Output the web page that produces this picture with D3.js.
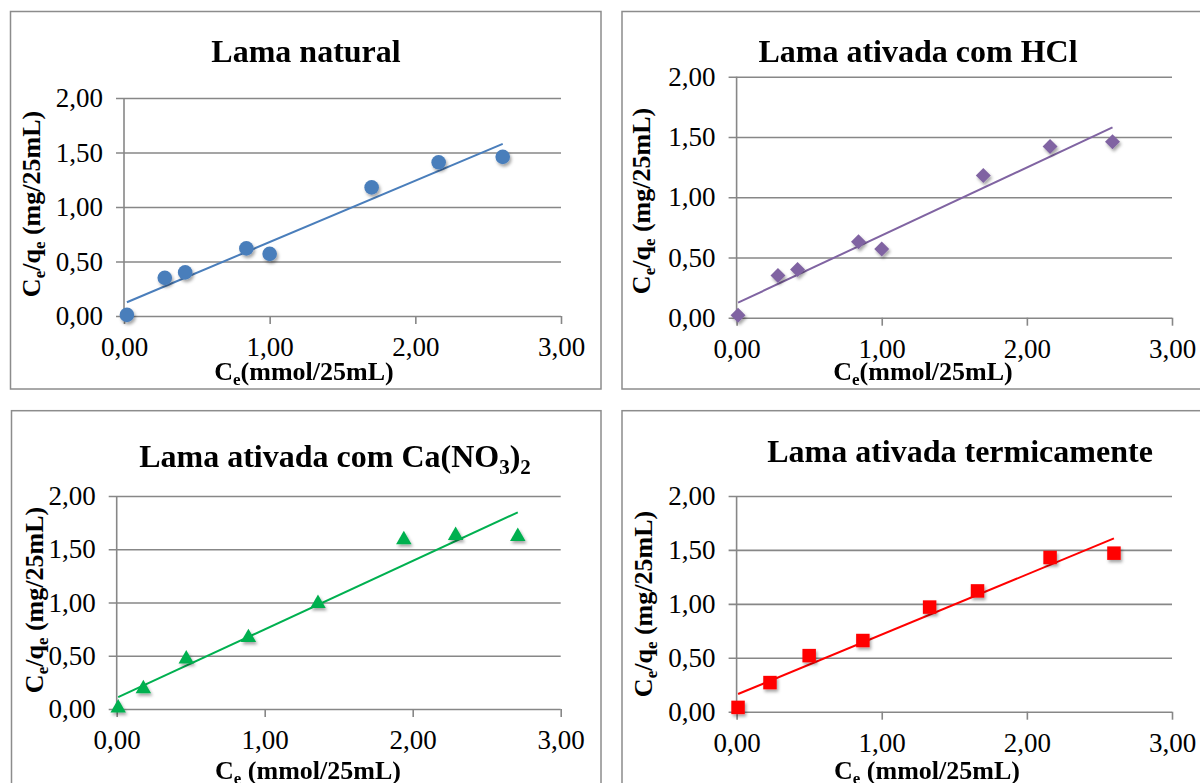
<!DOCTYPE html>
<html>
<head>
<meta charset="utf-8">
<script src="https://cdn.jsdelivr.net/npm/d3@7"></script>
<style>
  html, body { margin: 0; padding: 0; background: #fff; }
  svg { display: block; }
  svg text { font-family: "Liberation Serif", "Times New Roman", Times, serif !important; fill: #000; }
</style>
</head>
<body>
<svg id="chart" width="1200" height="783"></svg>
<script>
// Linearised Langmuir isotherms: Ce (mmol/25mL) vs Ce/qe (mg/25mL)
const ceNatural    = [0.02, 0.28, 0.42, 0.84, 1.00, 1.70, 2.16, 2.60];
const ratioNatural = [0.01, 0.35, 0.40, 0.62, 0.57, 1.18, 1.41, 1.46];

const ceHCl    = [0.01, 0.285, 0.42, 0.84, 1.00, 1.70, 2.16, 2.59];
const ratioHCl = [0.02, 0.35, 0.40, 0.63, 0.57, 1.18, 1.42, 1.46];

const ceCaNO3    = [0.01, 0.18, 0.47, 0.89, 1.36, 1.94, 2.29, 2.71];
const ratioCaNO3 = [0.01, 0.19, 0.47, 0.67, 0.99, 1.59, 1.63, 1.62];

const ceThermal    = [0.01, 0.23, 0.50, 0.87, 1.33, 1.66, 2.16, 2.60];
const ratioThermal = [0.04, 0.27, 0.52, 0.66, 0.97, 1.12, 1.43, 1.47];

const xTicks = [0, 1, 2, 3];
const yTicks = [0, 0.5, 1, 1.5, 2];

const titleNatural = [{ t: "Lama natural" }];
const titleHCl = [{ t: "Lama ativada com HCl" }];
const titleCaNO3 = [{ t: "Lama ativada com Ca(NO" }, { t: "3", sub: true }, { t: ")" }, { t: "2", sub: true }];
const titleThermal = [{ t: "Lama ativada termicamente" }];

const xLabelTight = [{ t: "C" }, { t: "e", sub: true }, { t: "(mmol/25mL)" }];
const xLabelSpaced = [{ t: "C" }, { t: "e", sub: true }, { t: " (mmol/25mL)" }];
const yLabel = [{ t: "C" }, { t: "e", sub: true }, { t: "/q" }, { t: "e", sub: true }, { t: " (mg/25mL)" }];

// decimal comma number format
const ptBR = d3.formatLocale({ decimal: ",", thousands: ".", grouping: [3], currency: ["R$", ""] });
const fmt = ptBR.format(".2f");

const SERIF = '"Liberation Serif", "Times New Roman", Times, serif';
const GRID = "#878787";

const panels = [
  {
    title: titleNatural, xLabel: xLabelTight, ce: ceNatural, ratio: ratioNatural,
    color: "#4A7EBB", marker: "circle",
    frame: { x: 10.5, y: 11.5, w: 590.5, h: 377.5 },
    plot: { left: 124, right: 561, bottom: 316, top: 98 },
    titleAt: [306, 62], xLabelAt: [304, 380], yLabelAt: [40, 204]
  },
  {
    title: titleHCl, xLabel: xLabelTight, ce: ceHCl, ratio: ratioHCl,
    color: "#8064A2", marker: "diamond",
    frame: { x: 622, y: 11.5, w: 600, h: 377.5 },
    plot: { left: 736.6, right: 1172, bottom: 317.7, top: 76.7 },
    titleAt: [918, 62], xLabelAt: [923, 380], yLabelAt: [650, 201]
  },
  {
    title: titleCaNO3, xLabel: xLabelSpaced, ce: ceCaNO3, ratio: ratioCaNO3,
    color: "#00B050", marker: "triangle",
    frame: { x: 11.5, y: 410.7, w: 589.5, h: 400 },
    plot: { left: 116.7, right: 560.7, bottom: 709, top: 496 },
    titleAt: [335, 467], xLabelAt: [308, 779], yLabelAt: [43, 600]
  },
  {
    title: titleThermal, xLabel: xLabelSpaced, ce: ceThermal, ratio: ratioThermal,
    color: "#FF0000", marker: "square",
    frame: { x: 622, y: 410.7, w: 600, h: 400 },
    plot: { left: 736.6, right: 1172, bottom: 711.7, top: 496 },
    titleAt: [960, 462], xLabelAt: [927, 779], yLabelAt: [652, 604]
  }
];

const svg = d3.select("#chart");

// soft drop shadow under the markers
const defs = svg.append("defs");
defs.append("filter").attr("id", "markerShadow")
  .attr("x", "-50%").attr("y", "-50%").attr("width", "200%").attr("height", "200%")
  .append("feDropShadow")
  .attr("dx", 1.5).attr("dy", 2.5).attr("stdDeviation", 1.6)
  .attr("flood-color", "#000").attr("flood-opacity", 0.35);

// write a label made of normal and subscript runs
function richText(sel, runs, size, subSize, drop) {
  let shifted = false;
  runs.forEach(r => {
    const ts = sel.append("tspan").text(r.t);
    if (r.sub) {
      ts.style("font-size", subSize + "px").attr("dy", shifted ? 0 : drop);
      shifted = true;
    } else {
      ts.style("font-size", size + "px");
      if (shifted) { ts.attr("dy", -drop); shifted = false; }
    }
  });
}

function markerPath(kind) {
  switch (kind) {
    case "circle": return d3.symbol(d3.symbolCircle, 168)();
    case "diamond": return d3.symbol(d3.symbolSquare, 112)();
    case "triangle": return d3.symbol(d3.symbolTriangle, 104)();
    default: return d3.symbol(d3.symbolSquare, 182)();
  }
}

// least-squares fit, drawn between the smallest and largest Ce
function linearFit(xs, ys) {
  const mx = d3.mean(xs), my = d3.mean(ys);
  let sxy = 0, sxx = 0;
  xs.forEach((x, i) => { sxy += (x - mx) * (ys[i] - my); sxx += (x - mx) * (x - mx); });
  const slope = sxy / sxx;
  return { slope, intercept: my - slope * mx };
}

panels.forEach(p => {
  const g = svg.append("g");

  g.append("rect")
    .attr("x", p.frame.x).attr("y", p.frame.y)
    .attr("width", p.frame.w).attr("height", p.frame.h)
    .attr("fill", "none").attr("stroke", "#8c8c8c").attr("stroke-width", 1.5);

  const x = d3.scaleLinear().domain([0, 3]).range([p.plot.left, p.plot.right]);
  const y = d3.scaleLinear().domain([0, 2]).range([p.plot.bottom, p.plot.top]);

  // horizontal gridlines (with short left ticks) and value labels
  const yAxis = g.append("g")
    .attr("transform", `translate(${p.plot.right},0)`)
    .call(d3.axisLeft(y).tickValues(yTicks).tickFormat(fmt)
      .tickSize(p.plot.right - p.plot.left + 8).tickPadding(13));
  yAxis.attr("font-family", null).attr("font-size", null);
  yAxis.select(".domain").remove();
  yAxis.selectAll(".tick line").attr("stroke", GRID).attr("stroke-width", 1.6);
  yAxis.selectAll(".tick text").style("font-family", SERIF).style("font-size", "27px");

  // vertical value axis
  g.append("line")
    .attr("x1", x(0)).attr("x2", x(0))
    .attr("y1", y(2)).attr("y2", y(0))
    .attr("stroke", GRID).attr("stroke-width", 1.6);

  // horizontal axis ticks and labels
  const xAxis = g.append("g")
    .attr("transform", `translate(0,${p.plot.bottom})`)
    .call(d3.axisBottom(x).tickValues(xTicks).tickFormat(fmt).tickSize(8).tickPadding(13));
  xAxis.attr("font-family", null).attr("font-size", null);
  xAxis.select(".domain").remove();
  xAxis.selectAll(".tick line").attr("stroke", GRID).attr("stroke-width", 1.6);
  xAxis.selectAll(".tick text").style("font-family", SERIF).style("font-size", "27px");

  // trend line
  const fit = linearFit(p.ce, p.ratio);
  const xMin = d3.min(p.ce), xMax = d3.max(p.ce);
  g.append("line")
    .attr("x1", x(xMin)).attr("y1", y(fit.intercept + fit.slope * xMin))
    .attr("x2", x(xMax)).attr("y2", y(fit.intercept + fit.slope * xMax))
    .attr("stroke", p.color).attr("stroke-width", 2);

  // data points
  const pts = p.ce.map((c, i) => ({ c, r: p.ratio[i] }));
  const rot = p.marker === "diamond" ? " rotate(45)" : "";
  g.append("g").attr("filter", "url(#markerShadow)")
    .selectAll("path").data(pts).join("path")
    .attr("d", markerPath(p.marker))
    .attr("transform", d => `translate(${x(d.c)},${y(d.r)})${rot}`)
    .attr("fill", p.color);

  // chart title
  const title = g.append("text")
    .attr("x", p.titleAt[0]).attr("y", p.titleAt[1])
    .attr("text-anchor", "middle")
    .style("font-family", SERIF).style("font-weight", "bold");
  richText(title, p.title, 32, 21, 7);

  // axis titles
  const xl = g.append("text")
    .attr("x", p.xLabelAt[0]).attr("y", p.xLabelAt[1])
    .attr("text-anchor", "middle")
    .style("font-family", SERIF).style("font-weight", "bold");
  richText(xl, p.xLabel, 26, 17, 5);

  const yl = g.append("text")
    .attr("transform", `translate(${p.yLabelAt[0]},${p.yLabelAt[1]}) rotate(-90)`)
    .attr("text-anchor", "middle")
    .style("font-family", SERIF).style("font-weight", "bold");
  richText(yl, yLabel, 26, 17, 5);
});
</script>
</body>
</html>
